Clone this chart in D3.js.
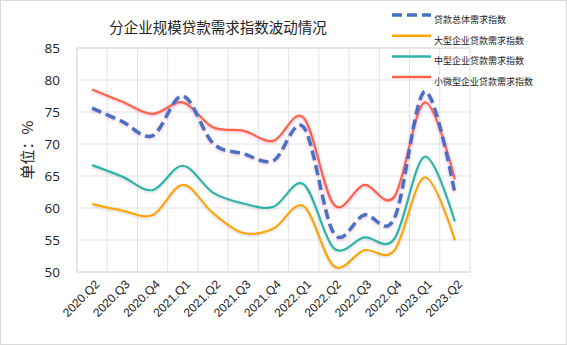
<!DOCTYPE html>
<html>
<head>
<meta charset="utf-8">
<script src="https://cdn.jsdelivr.net/npm/d3@7"></script>
<style>
  body { margin: 0; background: #fff; }
  svg { display: block; font-family: "Open Sans", "Noto Sans CJK SC", sans-serif; }
</style>
</head>
<body>
<div id="chart"></div>
<script>
const quarters = ["2020.Q2","2020.Q3","2020.Q4","2021.Q1","2021.Q2","2021.Q3","2021.Q4",
                  "2022.Q1","2022.Q2","2022.Q3","2022.Q4","2023.Q1","2023.Q2"];
const totalIdx  = [75.6, 73.5, 71.3, 77.5, 70.1, 68.5, 67.4, 72.6, 56.0, 58.9, 58.4, 78.2, 62.3];
const largeIdx  = [60.6, 59.6, 58.9, 63.6, 59.2, 56.1, 56.8, 60.3, 50.9, 53.4, 53.4, 64.8, 55.0];
const mediumIdx = [66.7, 64.9, 62.8, 66.6, 62.4, 60.7, 60.2, 63.7, 53.7, 55.4, 55.2, 68.0, 57.9];
const smallIdx  = [78.5, 76.6, 74.7, 76.5, 72.6, 72.1, 70.5, 74.1, 60.5, 63.6, 61.8, 76.5, 64.5];
const yTicks = [50, 55, 60, 65, 70, 75, 80, 85];

const series = [
  {name: "贷款总体需求指数", values: totalIdx, color: "#4472c4", width: 3.5, dash: "10,5", glow: "glowPink"},
  {name: "大型企业贷款需求指数", values: largeIdx, color: "#ffa500", width: 2.2, dash: null, glow: "shadow"},
  {name: "中型企业贷款需求指数", values: mediumIdx, color: "#2bb5a8", width: 2.2, dash: null, glow: "shadow"},
  {name: "小微型企业贷款需求指数", values: smallIdx, color: "#ff6347", width: 2.2, dash: null, glow: "glowPink"}
];

const W = 567, H = 345;
const m = {top: 48, right: 97, bottom: 73, left: 77};
const pw = W - m.left - m.right, ph = H - m.top - m.bottom;

const svg = d3.select("#chart").append("svg").attr("width", W).attr("height", H);

const defs = svg.append("defs");
const f1 = defs.append("filter").attr("id", "glowPink")
  .attr("x", "-10%").attr("y", "-10%").attr("width", "120%").attr("height", "120%");
f1.append("feDropShadow").attr("dx", 0).attr("dy", 1).attr("stdDeviation", 1.5)
  .attr("flood-color", "#e070b0").attr("flood-opacity", 0.5);
const f2 = defs.append("filter").attr("id", "shadow")
  .attr("x", "-10%").attr("y", "-10%").attr("width", "120%").attr("height", "120%");
f2.append("feDropShadow").attr("dx", 0).attr("dy", 1.5).attr("stdDeviation", 1)
  .attr("flood-color", "#999").attr("flood-opacity", 0.35);

// outer border
svg.append("rect").attr("x", 0.5).attr("y", 0.5).attr("width", W - 1).attr("height", H - 1)
  .attr("fill", "#fff").attr("stroke", "#d9d9d9");

const g = svg.append("g").attr("transform", `translate(${m.left},${m.top})`);

const x = d3.scaleBand().domain(quarters).range([0, pw]);
const y = d3.scaleLinear().domain([50, 85]).range([ph, 0]);

// grid
g.append("g").selectAll("line").data(yTicks).join("line")
  .attr("x1", 0).attr("x2", pw).attr("y1", d => y(d)).attr("y2", d => y(d))
  .attr("stroke", "#e3e3e3");
g.append("g").selectAll("line").data(quarters).join("line")
  .attr("x1", d => x(d)).attr("x2", d => x(d)).attr("y1", 0).attr("y2", ph)
  .attr("stroke", "#e3e3e3");
g.append("rect").attr("width", pw).attr("height", ph).attr("fill", "none").attr("stroke", "#dcdcdc");

// y axis
const yAxis = g.append("g").attr("transform", "translate(-14,0)")
  .call(d3.axisLeft(y).tickValues(yTicks).tickSize(0));
yAxis.select(".domain").remove();
yAxis.selectAll("text").attr("font-size", 13.5).attr("fill", "#222")
  .attr("font-family", "'Open Sans', sans-serif");

// x axis
const xAxis = g.append("g").attr("transform", `translate(0,${ph})`)
  .call(d3.axisBottom(x).tickSize(0));
xAxis.select(".domain").remove();
xAxis.selectAll("text")
  .attr("font-size", 12).attr("fill", "#222")
  .attr("text-anchor", "end")
  .attr("dy", 0)
  .attr("transform", "translate(6,11) rotate(-45)");

// y label
svg.append("text")
  .attr("transform", "translate(33,150) rotate(-90)")
  .attr("text-anchor", "middle")
  .attr("font-size", 15).attr("fill", "#222")
  .attr("font-family", "'Noto Sans CJK SC', sans-serif")
  .text("单位：%");

// title
svg.append("text").attr("x", 218).attr("y", 33).attr("text-anchor", "middle")
  .attr("font-size", 14.5).attr("fill", "#222")
  .attr("font-family", "'Noto Sans CJK SC', sans-serif")
  .text("分企业规模贷款需求指数波动情况");

// lines
const line = d3.line()
  .x((d, i) => x(quarters[i]) + x.bandwidth() / 2)
  .y(d => y(d))
  .curve(d3.curveCardinal.tension(0));

const drawOrder = [1, 2, 3, 0];
drawOrder.forEach(k => {
  const s = series[k];
  g.append("path").datum(s.values)
    .attr("d", line)
    .attr("fill", "none")
    .attr("stroke", s.color)
    .attr("stroke-width", s.width)
    .attr("stroke-dasharray", s.dash)
    .attr("filter", `url(#${s.glow})`);
});

// legend
const leg = svg.append("g").attr("transform", "translate(392,15)");
series.forEach((s, i) => {
  const row = leg.append("g").attr("transform", `translate(0,${i * 20.7})`);
  row.append("line").attr("x1", 0).attr("x2", 39).attr("y1", 0).attr("y2", 0)
    .attr("stroke", s.color).attr("stroke-width", s.dash ? 3.5 : 2.5)
    .attr("stroke-dasharray", s.dash);
  row.append("text").attr("x", 42).attr("y", 5).attr("dy", "0.32em")
    .attr("font-size", 9).attr("fill", "#222")
    .attr("font-family", "'Noto Sans CJK SC', sans-serif")
    .text(s.name);
});
</script>
</body>
</html>
